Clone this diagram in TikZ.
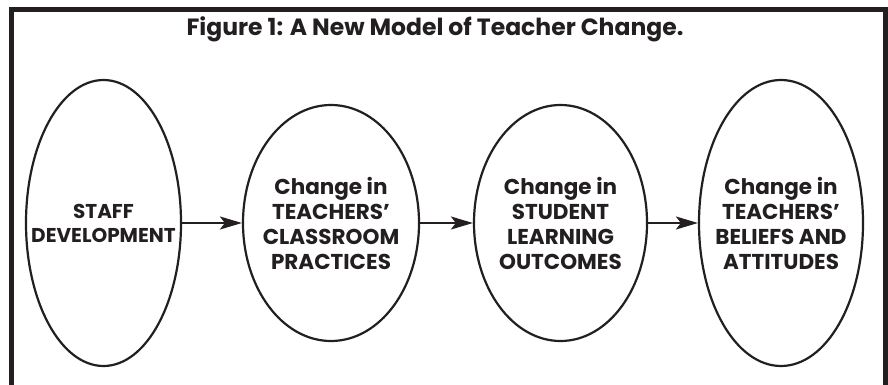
\documentclass[tikz,border=0pt]{standalone}
\usepackage{fontspec}
\setmainfont{Poppins}
\usetikzlibrary{arrows.meta,shapes.geometric}
\definecolor{ink}{HTML}{231F20}
\begin{document}
\begin{tikzpicture}[x=1pt,y=-1pt,
  bubble/.style={draw=ink, line width=2.2pt, ellipse, inner sep=-40pt, align=center,
     text=ink, font=\fontsize{21.5}{25}\selectfont\bfseries},
  link/.style={draw=ink, line width=2pt, -{Stealth[length=22pt,width=13pt,inset=5pt]}},
  framebar/.style={draw=ink, line width=5pt},
  titletext/.style={text=ink, font=\fontsize{23.5}{25}\selectfont\bfseries, anchor=base, inner sep=0pt}]
\useasboundingbox (0,0) rectangle (888,385);
\draw[framebar] (11,400) -- (11,9.5) -- (885.5,9.5) -- (885.5,400);
\node[titletext] (title) at (435,36) {Figure 1: A New Model of Teacher Change.};
\node[bubble, font=\fontsize{20}{24}\selectfont\bfseries, minimum width=155pt, minimum height=286pt] (e1) at (103.5,223) {STAFF\\DEVELOPMENT};
\node[bubble, minimum width=176pt, minimum height=236pt] (e2) at (331,223) {Change in\\TEACHERS'\\CLASSROOM\\PRACTICES};
\node[bubble, minimum width=173pt, minimum height=236pt] (e3) at (560.5,223) {Change in\\STUDENT\\LEARNING\\OUTCOMES};
\node[bubble, minimum width=164pt, minimum height=286pt] (e4) at (781,223) {Change in\\TEACHERS'\\BELIEFS AND\\ATTITUDES};
\draw[link] (e1.east) -- (e2.west);
\draw[link] (e2.east) -- (e3.west);
\draw[link] (e3.east) -- (e4.west);
\end{tikzpicture}
\end{document}
